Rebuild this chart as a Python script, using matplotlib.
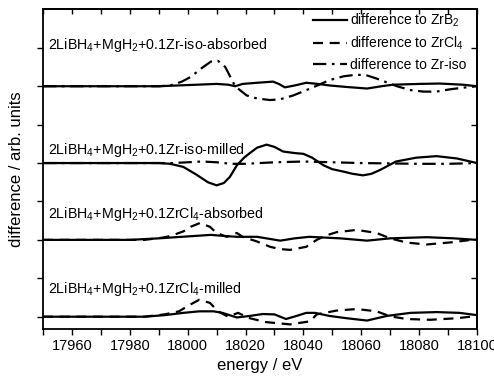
import numpy as np
import matplotlib
matplotlib.use("Agg")
from matplotlib import pyplot as plt

plt.rcParams['font.family'] = ['Liberation Sans', 'DejaVu Sans']
plt.rcParams['mathtext.fontset'] = 'custom'
plt.rcParams['mathtext.rm'] = 'Liberation Sans'
plt.rcParams['mathtext.it'] = 'Liberation Sans'

# vertical offset of each sample trace
offsets = [3, 2, 1, 0]
samples = ["2LiBH$_4$+MgH$_2$+0.1Zr-iso-absorbed",
           "2LiBH$_4$+MgH$_2$+0.1Zr-iso-milled",
           "2LiBH$_4$+MgH$_2$+0.1ZrCl$_4$-absorbed",
           "2LiBH$_4$+MgH$_2$+0.1ZrCl$_4$-milled"]
label_y = [3.49, 2.12, 1.29, 0.31]

# Zr-iso-absorbed
e_isoabs_zrb2 = [17950, 17990, 18000, 18010, 18014, 18016.4, 18019, 18024, 18029.5, 18031.5, 18033.6, 18037, 18041, 18045, 18049, 18055, 18062, 18067, 18071, 18080, 18087, 18095, 18100]
d_isoabs_zrb2 = [0, 0, 0.015, 0.03, 0.02, 0.0, 0.03, 0.045, 0.06, 0.03, -0.015, 0.01, 0.045, 0.03, 0.01, -0.01, -0.03, 0.0, 0.02, 0.03, 0.035, 0.02, 0]
e_isoabs_iso = [17950, 17990, 17994, 17998, 18001, 18005, 18008, 18010.5, 18013, 18016.4, 18020.4, 18024, 18028.5, 18032, 18036.5, 18043, 18049, 18054, 18058.4, 18062, 18065.3, 18072.3, 18077, 18081.4, 18086, 18090.7, 18095, 18100]
d_isoabs_iso = [0, 0, 0.01, 0.06, 0.12, 0.24, 0.32, 0.33, 0.25, 0.0, -0.12, -0.16, -0.18, -0.17, -0.12, -0.02, 0.08, 0.13, 0.15, 0.14, 0.10, 0.0, -0.05, -0.07, -0.07, -0.04, -0.02, 0]

# Zr-iso-milled
e_isomil_zrb2 = [17950, 17990, 17994, 17998.5, 18003, 18007, 18010, 18012.5, 18014.6, 18017, 18019.5, 18021.5, 18024, 18027.3, 18030, 18033, 18037, 18040, 18043, 18047, 18050, 18053.7, 18057, 18060.6, 18063.5, 18066.5, 18072, 18079, 18086, 18093, 18100]
d_isomil_zrb2 = [0, 0, -0.01, -0.05, -0.15, -0.25, -0.29, -0.26, -0.18, -0.03, 0.07, 0.13, 0.2, 0.24, 0.21, 0.15, 0.13, 0.12, 0.07, -0.03, -0.08, -0.11, -0.14, -0.16, -0.14, -0.09, 0.02, 0.07, 0.09, 0.06, 0]
e_isomil_iso = [17950, 17995, 18000, 18005, 18010, 18015, 18020, 18030, 18040, 18050, 18060, 18070, 18080, 18090, 18100]
d_isomil_iso = [0, 0, 0.01, 0.02, 0.01, -0.01, -0.01, 0.01, 0.02, 0.01, 0.0, -0.005, -0.01, -0.01, 0]

# ZrCl4-absorbed
e_cl4abs_zrb2 = [17950, 17980, 17990, 18000, 18008, 18013, 18017, 18024, 18028, 18032, 18037, 18042, 18052.7, 18062, 18070, 18082.6, 18092, 18100]
d_cl4abs_zrb2 = [0, 0, 0.02, 0.045, 0.065, 0.05, 0.04, 0.04, 0.015, -0.01, 0.02, 0.04, 0.02, -0.01, 0.02, 0.035, 0.02, 0]
e_cl4abs_cl4 = [17950, 17985, 17991.5, 17994, 17998.5, 18001, 18004.3, 18007.7, 18010, 18013.5, 18017, 18019, 18023.9, 18028.5, 18032, 18035.4, 18041, 18044.6, 18048, 18051.5, 18058.4, 18065.3, 18070, 18075.7, 18082.6, 18091.7, 18100]
d_cl4abs_cl4 = [0, 0, 0.03, 0.05, 0.11, 0.17, 0.22, 0.17, 0.09, 0.04, 0.09, 0.04, -0.02, -0.09, -0.12, -0.13, -0.09, 0.0, 0.06, 0.1, 0.13, 0.09, 0.02, -0.035, -0.06, -0.03, 0.01]

# ZrCl4-milled
e_cl4mil_zrb2 = [17950, 17985, 17992, 17998.5, 18004, 18009, 18012, 18017, 18021.5, 18026, 18030, 18034, 18037.6, 18041, 18044, 18049, 18055, 18062, 18068.8, 18077, 18086, 18094, 18100]
d_cl4mil_zrb2 = [0, 0, 0.02, 0.05, 0.07, 0.07, 0.05, -0.01, 0.01, 0.035, 0.03, -0.03, 0.01, 0.05, 0.05, 0.01, -0.02, -0.05, 0.01, 0.05, 0.06, 0.05, 0.02]
e_cl4mil_cl4 = [17950, 17985, 17992, 17997, 18001, 18004, 18007.7, 18010.5, 18014, 18017.4, 18021.5, 18027, 18035.4, 18042.3, 18044.6, 18051.5, 18058.4, 18065.3, 18070, 18075.7, 18083.8, 18093, 18100]
d_cl4mil_cl4 = [0, 0, 0.03, 0.07, 0.16, 0.22, 0.18, 0.07, 0.0, 0.05, -0.02, -0.07, -0.10, -0.06, 0.03, 0.08, 0.10, 0.07, 0.005, -0.03, -0.04, -0.02, 0.01]

styles = {"zrb2": dict(ls="-"),
          "cl4": dict(ls=(0, (4.5, 3))),
          "iso": dict(ls=(0, (6, 2.5, 1.2, 2.5)))}

fig = plt.figure(figsize=(4.94, 3.76), dpi=100)
ax = fig.add_axes([0.087, 0.125, 0.8786, 0.85])

lw = 1.6
ax.plot(e_isoabs_zrb2, np.array(d_isoabs_zrb2) + offsets[0], color='k', lw=lw, **styles["zrb2"])
ax.plot(e_isoabs_iso, np.array(d_isoabs_iso) + offsets[0], color='k', lw=lw, **styles["iso"])
ax.plot(e_isomil_zrb2, np.array(d_isomil_zrb2) + offsets[1], color='k', lw=lw, **styles["zrb2"])
ax.plot(e_isomil_iso, np.array(d_isomil_iso) + offsets[1], color='k', lw=lw, **styles["iso"])
ax.plot(e_cl4abs_zrb2, np.array(d_cl4abs_zrb2) + offsets[2], color='k', lw=lw, **styles["zrb2"])
ax.plot(e_cl4abs_cl4, np.array(d_cl4abs_cl4) + offsets[2], color='k', lw=lw, **styles["cl4"])
ax.plot(e_cl4mil_zrb2, np.array(d_cl4mil_zrb2) + offsets[3], color='k', lw=lw, **styles["zrb2"])
ax.plot(e_cl4mil_cl4, np.array(d_cl4mil_cl4) + offsets[3], color='k', lw=lw, **styles["cl4"])

# legend handles
ax.plot([], [], color='k', lw=lw, label="difference to ZrB$_2$", **styles["zrb2"])
ax.plot([], [], color='k', lw=lw, label="difference to ZrCl$_4$", **styles["cl4"])
ax.plot([], [], color='k', lw=lw, label="difference to Zr-iso", **styles["iso"])
ax.legend(loc='upper right', bbox_to_anchor=(0.976, 0.993), frameon=False, fontsize=10,
          handlelength=2.45, handletextpad=0.25, labelspacing=0.42,
          borderaxespad=0.0, borderpad=0.0)

for s, y in zip(samples, label_y):
    ax.text(17951.7, y, s, ha='left', va='baseline', fontsize=10.3)

ax.set_xlim(17950, 18100)
ax.set_ylim(-0.16, 4.0)
ax.set_xticks(np.arange(17960, 18101, 20))
ax.set_xticks(np.arange(17950, 18100, 20), minor=True)
ax.set_yticks(np.arange(0, 3.6, 0.5))
ax.set_yticklabels([])
ax.tick_params(axis='x', which='both', direction='out', length=4, width=1, labelsize=10.5)
ax.tick_params(axis='y', which='both', direction='out', length=4, width=1)

top = ax.secondary_xaxis('top')
top.set_xticks(np.arange(17950, 18101, 10))
top.tick_params(direction='in', length=3.5, width=1, labeltop=False)
right = ax.secondary_yaxis('right')
right.set_yticks([0.5, 1.5, 2.5, 3.5])
right.tick_params(direction='in', length=4, width=1, labelright=False)
for a in (ax, top, right):
    for sp in a.spines.values():
        sp.set_linewidth(1.3)

ax.set_xlabel("energy / eV", fontsize=12, labelpad=3)
ax.set_ylabel("difference / arb. units", fontsize=12, labelpad=6)

fig.savefig("out.png", dpi=100)
